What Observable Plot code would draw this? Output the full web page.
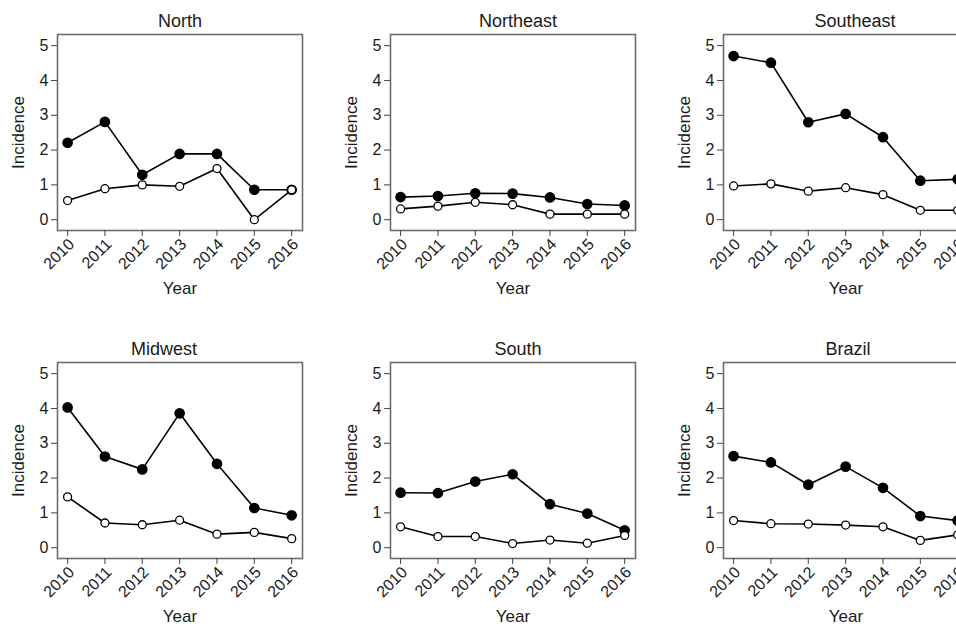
<!DOCTYPE html>
<html><head><meta charset="utf-8">
<script src="https://cdn.jsdelivr.net/npm/d3@7"></script>
<script src="https://cdn.jsdelivr.net/npm/@observablehq/plot@0.6"></script>
<style>
html,body{margin:0;padding:0;background:#fff;overflow:hidden;}
#wrap{position:relative;width:1000px;height:656px;}
.panel{position:absolute;}
</style></head><body><div id="wrap"></div>
<script>
// ---- data ----
const years = [2010, 2011, 2012, 2013, 2014, 2015, 2016];
const yTicks = [0, 1, 2, 3, 4, 5];
const regions = ["North", "Northeast", "Southeast", "Midwest", "South", "Brazil"];

const northFilled     = [2.21, 2.81, 1.29, 1.89, 1.89, 0.86, 0.86];
const northOpen       = [0.55, 0.89, 1.00, 0.96, 1.47, 0.00, 0.86];
const northeastFilled = [0.65, 0.68, 0.76, 0.75, 0.64, 0.45, 0.41];
const northeastOpen   = [0.31, 0.39, 0.50, 0.43, 0.16, 0.16, 0.16];
const southeastFilled = [4.70, 4.51, 2.80, 3.04, 2.37, 1.12, 1.16];
const southeastOpen   = [0.97, 1.03, 0.82, 0.92, 0.72, 0.27, 0.27];
const midwestFilled   = [4.03, 2.62, 2.25, 3.86, 2.41, 1.14, 0.93];
const midwestOpen     = [1.46, 0.71, 0.66, 0.79, 0.39, 0.44, 0.26];
const southFilled     = [1.58, 1.57, 1.90, 2.11, 1.25, 0.98, 0.50];
const southOpen       = [0.60, 0.32, 0.32, 0.12, 0.22, 0.13, 0.35];
const brazilFilled    = [2.63, 2.45, 1.81, 2.33, 1.72, 0.91, 0.78];
const brazilOpen      = [0.78, 0.69, 0.68, 0.65, 0.60, 0.21, 0.37];

const filledSeries = [northFilled, northeastFilled, southeastFilled, midwestFilled, southFilled, brazilFilled];
const openSeries   = [northOpen, northeastOpen, southeastOpen, midwestOpen, southOpen, brazilOpen];

// ---- layout (not data) ----
const PANEL_W = 333, PANEL_H = 328;
const titleShift = [0, 5, 9, -16, 5, 2];
const FONT = "'Liberation Sans', Arial, Helvetica, sans-serif";
const INK = "#1a1a1a";

function panel(idx) {
  const name = regions[idx];
  const filled = years.map((yr, i) => ({year: yr, value: filledSeries[idx][i]}));
  const open = years.map((yr, i) => ({year: yr, value: openSeries[idx][i]}));
  return Plot.plot({
    width: PANEL_W, height: PANEL_H,
    marginLeft: 57, marginRight: 31, marginTop: 34, marginBottom: 98,
    style: {fontFamily: FONT, fontSize: "15px", color: INK, background: "#fff", overflow: "visible"},
    x: {domain: [2009.73, 2016.29]},
    y: {domain: [-0.31, 5.32]},
    marks: [
      Plot.frame({stroke: "#6e6e6e", strokeWidth: 1.6}),
      Plot.axisY({ticks: yTicks, tickFormat: () => "", tickSize: 6, label: null, stroke: "#444"}),
      Plot.axisX({ticks: years, tickFormat: () => "", tickSize: 6, label: null, stroke: "#444"}),
      // tick labels
      Plot.text(yTicks, {y: d => d, text: d => String(d), frameAnchor: "left", dx: -9, textAnchor: "end", lineAnchor: "middle", fontSize: 16, fill: INK}),
      Plot.text(years, {x: d => d, text: d => String(d), frameAnchor: "bottom", dx: 4, dy: 11, rotate: -45, textAnchor: "end", lineAnchor: "middle", fontSize: 16, fill: INK}),
      // axis titles
      Plot.text(["Incidence"], {frameAnchor: "left", dx: -39, rotate: -90, textAnchor: "middle", lineAnchor: "middle", fontSize: 17, fill: INK}),
      Plot.text(["Year"], {frameAnchor: "bottom", dy: 58, textAnchor: "middle", lineAnchor: "middle", fontSize: 17, fill: INK}),
      Plot.text([name], {frameAnchor: "top", dy: -13, dx: titleShift[idx], textAnchor: "middle", lineAnchor: "middle", fontSize: 18, fill: INK}),
      // series
      Plot.line(filled, {x: "year", y: "value", stroke: "#000", strokeWidth: 1.6}),
      Plot.line(open, {x: "year", y: "value", stroke: "#000", strokeWidth: 1.6}),
      Plot.dot(filled, {x: "year", y: "value", r: 4.6, fill: "#000", stroke: "#000"}),
      Plot.dot(open, {x: "year", y: "value", r: 4, fill: "#fff", stroke: "#000", strokeWidth: 1.3})
    ]
  });
}

const wrap = document.getElementById("wrap");
regions.forEach((r, i) => {
  const div = document.createElement("div");
  div.className = "panel";
  div.style.left = (i % 3) * PANEL_W + "px";
  div.style.top = Math.floor(i / 3) * PANEL_H + "px";
  div.appendChild(panel(i));
  wrap.appendChild(div);
});
</script>
</body></html>
